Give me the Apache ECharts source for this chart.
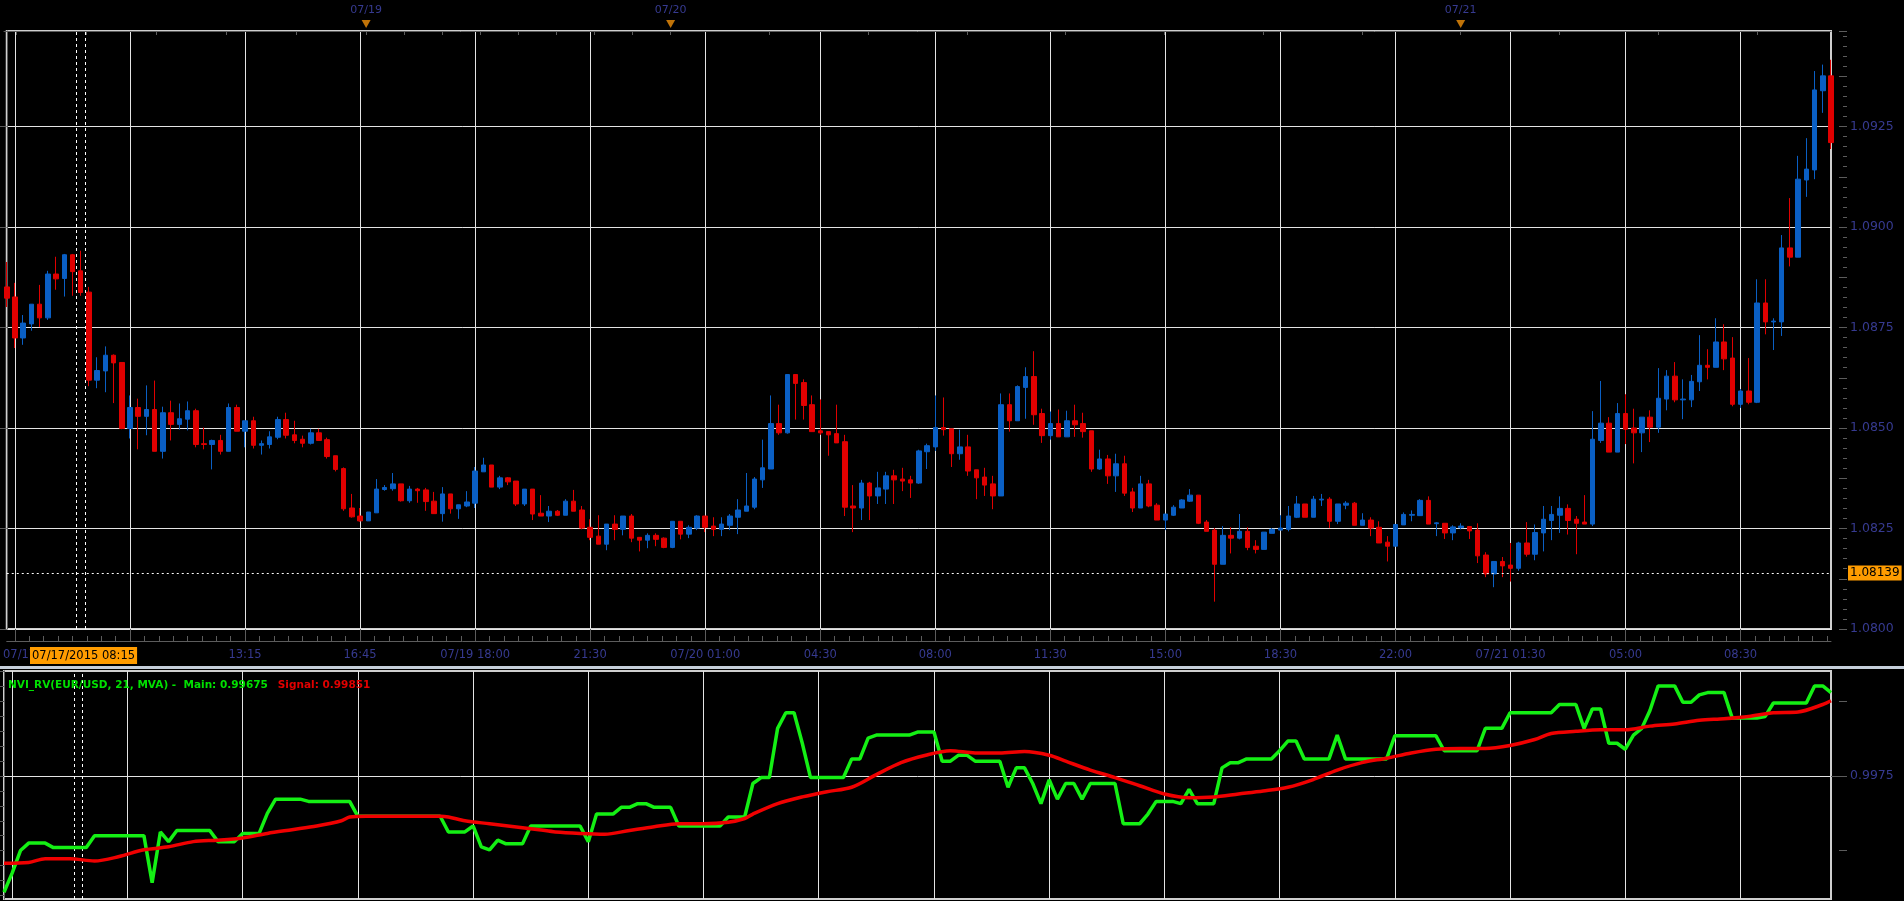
<!DOCTYPE html>
<html><head><meta charset="utf-8">
<script src="https://cdn.jsdelivr.net/npm/echarts@6/dist/echarts.min.js"></script>
<style>html,body{margin:0;padding:0;background:#000;overflow:hidden}#c{width:1904px;height:901px}</style>
</head><body><div id="c"></div>
<script>
// ---------- DATA (15-minute EUR/USD bars) ----------
const opens = [1.08851,1.08826,1.08724,1.08759,1.08808,1.08774,1.08883,1.08872,1.08931,1.08891,1.08838,1.08619,1.08642,1.08681,1.08663,1.08499,1.08551,1.08529,1.08546,1.08442,1.08538,1.08509,1.08522,1.08543,1.08461,1.08459,1.08469,1.08442,1.08551,1.08492,1.08518,1.08457,1.08459,1.08477,1.08521,1.08483,1.08472,1.08462,1.08488,1.08471,1.08431,1.08399,1.08301,1.08281,1.08269,1.08289,1.08347,1.08349,1.08361,1.08319,1.08348,1.08346,1.08318,1.08287,1.08336,1.08299,1.08306,1.08313,1.08391,1.08408,1.08353,1.08376,1.08368,1.08311,1.08348,1.08288,1.08281,1.08293,1.08283,1.08318,1.08296,1.08253,1.08231,1.08211,1.08261,1.08248,1.08281,1.08228,1.08221,1.08233,1.08226,1.08203,1.08268,1.08236,1.08251,1.08281,1.08256,1.08248,1.08258,1.08278,1.08293,1.08303,1.08371,1.08398,1.08511,1.08488,1.08633,1.08613,1.08558,1.08493,1.08491,1.08486,1.08466,1.08306,1.08301,1.08363,1.08331,1.08348,1.08381,1.08373,1.08371,1.08363,1.08441,1.08453,1.08501,1.08498,1.08436,1.08453,1.08396,1.08378,1.08361,1.08331,1.08558,1.08518,1.08601,1.08628,1.08536,1.08481,1.08511,1.08478,1.08518,1.08511,1.08493,1.08398,1.08423,1.08381,1.08411,1.08341,1.08301,1.08361,1.08308,1.08271,1.08283,1.08301,1.08318,1.08333,1.08266,1.08246,1.08161,1.08233,1.08226,1.08243,1.08206,1.08198,1.08238,1.08246,1.08248,1.08278,1.08311,1.08278,1.08321,1.08323,1.08268,1.08308,1.08313,1.08258,1.08271,1.08253,1.08216,1.08206,1.08259,1.08283,1.08282,1.08320,1.08262,1.08263,1.08239,1.08252,1.08255,1.08246,1.08184,1.08137,1.08168,1.08159,1.08151,1.08214,1.08186,1.08239,1.08270,1.08283,1.08300,1.08273,1.08266,1.08261,1.08469,1.08512,1.08440,1.08536,1.08500,1.08488,1.08527,1.08502,1.08572,1.08629,1.08570,1.08570,1.08615,1.08656,1.08651,1.08714,1.08674,1.08559,1.08592,1.08564,1.08811,1.08764,1.08764,1.08948,1.08925,1.09117,1.09142,1.09339,1.09376];
const closes = [1.08823,1.08724,1.08761,1.08808,1.08774,1.08883,1.08871,1.08931,1.08889,1.08837,1.08619,1.08643,1.08681,1.08662,1.08499,1.08551,1.08529,1.08546,1.08442,1.08538,1.08509,1.08523,1.08543,1.08459,1.08459,1.08469,1.08442,1.08551,1.08492,1.08518,1.08457,1.08461,1.08478,1.08521,1.08482,1.08469,1.08462,1.08488,1.08469,1.08429,1.08397,1.08299,1.08279,1.08269,1.08291,1.08348,1.08352,1.08361,1.08319,1.08348,1.08344,1.08317,1.08287,1.08336,1.08299,1.08309,1.08316,1.08393,1.08408,1.08353,1.08376,1.08366,1.08311,1.08348,1.08286,1.08281,1.08293,1.08283,1.08318,1.08293,1.08251,1.08228,1.08211,1.08261,1.08248,1.08281,1.08226,1.08221,1.08233,1.08223,1.08203,1.08268,1.08236,1.08253,1.08281,1.08253,1.08248,1.08261,1.08281,1.08296,1.08306,1.08373,1.08401,1.08511,1.08488,1.08633,1.08611,1.08556,1.08491,1.08488,1.08483,1.08463,1.08303,1.08301,1.08363,1.08331,1.08351,1.08381,1.08371,1.08368,1.08363,1.08443,1.08456,1.08501,1.08496,1.08436,1.08453,1.08393,1.08376,1.08358,1.08331,1.08558,1.08518,1.08603,1.08628,1.08533,1.08481,1.08511,1.08478,1.08518,1.08508,1.08491,1.08398,1.08423,1.08381,1.08411,1.08338,1.08301,1.08361,1.08306,1.08271,1.08286,1.08303,1.08321,1.08333,1.08263,1.08243,1.08161,1.08233,1.08226,1.08243,1.08203,1.08198,1.08241,1.08248,1.08251,1.08281,1.08311,1.08278,1.08323,1.08323,1.08268,1.08311,1.08313,1.08258,1.08271,1.08251,1.08214,1.08206,1.08260,1.08285,1.08285,1.08320,1.08261,1.08264,1.08239,1.08254,1.08256,1.08244,1.08182,1.08137,1.08168,1.08157,1.08151,1.08214,1.08186,1.08240,1.08273,1.08285,1.08300,1.08270,1.08263,1.08261,1.08472,1.08512,1.08440,1.08536,1.08497,1.08488,1.08527,1.08502,1.08574,1.08629,1.08570,1.08572,1.08616,1.08656,1.08651,1.08714,1.08672,1.08559,1.08592,1.08564,1.08811,1.08764,1.08766,1.08948,1.08925,1.09119,1.09144,1.09341,1.09376,1.09210];
const lows = [1.08801,1.08699,1.08707,1.08742,1.08751,1.08769,1.08844,1.08827,1.08829,1.08829,1.08604,1.08599,1.08589,1.08562,1.08497,1.08474,1.08447,1.08482,1.08442,1.08424,1.08469,1.08496,1.08494,1.08452,1.08447,1.08397,1.08434,1.08442,1.08492,1.08452,1.08449,1.08434,1.08449,1.08472,1.08474,1.08462,1.08452,1.08459,1.08469,1.08424,1.08392,1.08294,1.08277,1.08267,1.08269,1.08289,1.08344,1.08344,1.08317,1.08314,1.08314,1.08294,1.08287,1.08267,1.08287,1.08274,1.08303,1.08301,1.08391,1.08353,1.08348,1.08358,1.08306,1.08306,1.08271,1.08281,1.08266,1.08281,1.08283,1.08293,1.08248,1.08221,1.08211,1.08196,1.08221,1.08233,1.08216,1.08193,1.08201,1.08206,1.08201,1.08201,1.08223,1.08226,1.08246,1.08241,1.08231,1.08231,1.08246,1.08236,1.08293,1.08298,1.08351,1.08398,1.08483,1.08486,1.08521,1.08521,1.08491,1.08483,1.08431,1.08463,1.08281,1.08241,1.08271,1.08271,1.08311,1.08311,1.08311,1.08343,1.08326,1.08361,1.08398,1.08443,1.08481,1.08403,1.08421,1.08381,1.08323,1.08331,1.08298,1.08331,1.08491,1.08518,1.08523,1.08508,1.08463,1.08471,1.08478,1.08478,1.08478,1.08476,1.08391,1.08396,1.08361,1.08341,1.08331,1.08291,1.08301,1.08303,1.08271,1.08246,1.08281,1.08301,1.08316,1.08261,1.08243,1.08068,1.08161,1.08188,1.08223,1.08196,1.08188,1.08198,1.08238,1.08246,1.08243,1.08276,1.08278,1.08278,1.08306,1.08251,1.08261,1.08298,1.08258,1.08258,1.08231,1.08214,1.08168,1.08206,1.08259,1.08268,1.08281,1.08261,1.08231,1.08224,1.08221,1.08248,1.08224,1.08164,1.08129,1.08104,1.08129,1.08118,1.08145,1.08180,1.08171,1.08193,1.08221,1.08239,1.08235,1.08186,1.08261,1.08256,1.08463,1.08440,1.08440,1.08460,1.08412,1.08440,1.08465,1.08488,1.08544,1.08564,1.08522,1.08552,1.08592,1.08621,1.08651,1.08644,1.08554,1.08550,1.08559,1.08562,1.08733,1.08694,1.08729,1.08902,1.08925,1.09075,1.09119,1.09284,1.09194];
const highs = [1.08913,1.08861,1.08781,1.08808,1.08856,1.08891,1.08926,1.08933,1.08933,1.08941,1.08851,1.08676,1.08703,1.08683,1.08663,1.08581,1.08573,1.08606,1.08618,1.08553,1.08568,1.08561,1.08566,1.08548,1.08501,1.08471,1.08483,1.08561,1.08558,1.08518,1.08528,1.08469,1.08492,1.08528,1.08538,1.08518,1.08481,1.08498,1.08498,1.08476,1.08431,1.08402,1.08336,1.08301,1.08291,1.08373,1.08358,1.08388,1.08361,1.08356,1.08351,1.08351,1.08341,1.08353,1.08336,1.08309,1.08343,1.08403,1.08426,1.08408,1.08381,1.08378,1.08368,1.08348,1.08348,1.08333,1.08306,1.08296,1.08323,1.08346,1.08306,1.08273,1.08283,1.08261,1.08283,1.08281,1.08286,1.08228,1.08238,1.08238,1.08228,1.08268,1.08268,1.08258,1.08283,1.08281,1.08278,1.08278,1.08286,1.08323,1.08388,1.08378,1.08471,1.08581,1.08558,1.08633,1.08633,1.08621,1.08581,1.08571,1.08491,1.08558,1.08483,1.08358,1.08371,1.08366,1.08391,1.08391,1.08396,1.08401,1.08381,1.08446,1.08461,1.08581,1.08576,1.08498,1.08496,1.08483,1.08396,1.08401,1.08381,1.08586,1.08586,1.08606,1.08651,1.08691,1.08548,1.08541,1.08546,1.08543,1.08558,1.08538,1.08493,1.08446,1.08433,1.08436,1.08431,1.08351,1.08381,1.08371,1.08313,1.08286,1.08308,1.08323,1.08348,1.08333,1.08271,1.08251,1.08256,1.08253,1.08286,1.08253,1.08221,1.08241,1.08251,1.08283,1.08306,1.08331,1.08311,1.08331,1.08336,1.08328,1.08311,1.08318,1.08316,1.08288,1.08278,1.08268,1.08231,1.08260,1.08290,1.08295,1.08323,1.08330,1.08266,1.08263,1.08258,1.08263,1.08255,1.08263,1.08191,1.08168,1.08179,1.08214,1.08217,1.08266,1.08260,1.08306,1.08306,1.08330,1.08310,1.08281,1.08333,1.08542,1.08617,1.08527,1.08562,1.08584,1.08548,1.08527,1.08544,1.08649,1.08644,1.08664,1.08621,1.08632,1.08731,1.08696,1.08773,1.08758,1.08726,1.08597,1.08674,1.08870,1.08870,1.08773,1.08980,1.09072,1.09177,1.09221,1.09388,1.09404,1.09416];

// bottom time-axis labels (one every 14 bars, starting at bar 1)
const tickLabels = ['07/17 06:15','09:45','13:15','16:45','07/19 18:00','21:30','07/20 01:00','04:30','08:00','11:30','15:00','18:30','22:00','07/21 01:30','05:00','08:30'];
// top date strip
const dayLabels = ['07/19','07/20','07/21'];
const dayStartIdx = [44, 81, 177];
const dayBounds = [-24, 44, 81, 177, 273];

// NVI_RV indicator: [bar index, value]
const nviMain = [[0,0.99594],[1,0.99620],[2,0.99650],[3,0.99660],[5,0.99660],[6,0.99654],[10,0.99654],[11,0.99670],[17,0.99670],[18,0.99607],[19,0.99675],[20,0.99662],[21,0.99677],[25,0.99677],[26,0.99662],[28,0.99662],[29,0.99673],[31,0.99673],[32,0.99700],[33,0.99719],[36,0.99719],[37,0.99716],[42,0.99716],[43,0.99696],[53,0.99696],[54,0.99675],[56,0.99675],[57,0.99683],[58,0.99655],[59,0.99651],[60,0.99664],[61,0.99659],[63,0.99659],[64,0.99683],[70,0.99683],[71,0.99662],[72,0.99699],[74,0.99699],[75,0.99708],[76,0.99708],[77,0.99713],[78,0.99713],[79,0.99708],[81,0.99708],[82,0.99683],[87,0.99683],[88,0.99695],[90,0.99695],[91,0.99740],[92,0.99748],[93,0.99748],[94,0.99814],[95,0.99835],[96,0.99835],[97,0.99794],[98,0.99748],[102,0.99748],[103,0.99773],[104,0.99773],[105,0.99801],[106,0.99805],[110,0.99805],[111,0.99809],[113,0.99809],[114,0.99770],[115,0.99770],[116,0.99778],[117,0.99778],[118,0.99770],[121,0.99770],[122,0.99735],[123,0.99761],[124,0.99761],[125,0.99740],[126,0.99713],[127,0.99745],[128,0.99719],[129,0.99740],[130,0.99740],[131,0.99719],[132,0.99740],[135,0.99740],[136,0.99686],[138,0.99686],[139,0.99699],[140,0.99716],[142,0.99716],[143,0.99713],[144,0.99732],[145,0.99713],[147,0.99713],[148,0.99761],[149,0.99768],[150,0.99768],[151,0.99773],[154,0.99773],[155,0.99784],[156,0.99797],[157,0.99797],[158,0.99773],[161,0.99773],[162,0.99805],[163,0.99773],[168,0.99773],[169,0.99804],[174,0.99804],[175,0.99784],[179,0.99784],[180,0.99814],[182,0.99814],[183,0.99835],[188,0.99835],[189,0.99846],[191,0.99846],[192,0.99814],[193,0.99840],[194,0.99840],[195,0.99794],[196,0.99794],[197,0.99786],[198,0.99805],[199,0.99814],[200,0.99838],[201,0.99871],[203,0.99871],[204,0.99849],[205,0.99849],[206,0.99859],[207,0.99862],[209,0.99862],[210,0.99828],[213,0.99828],[214,0.99830],[215,0.99848],[219,0.99848],[220,0.99871],[221,0.99871],[222,0.99862]];
const nviSignal = [[0,0.99633],[3,0.99634],[5,0.99639],[8,0.99639],[11,0.99636],[14,0.99642],[17,0.99651],[20,0.99655],[23,0.99662],[26,0.99664],[29,0.99667],[32,0.99673],[35,0.99678],[38,0.99683],[41,0.99690],[42,0.99695],[44,0.99696],[53,0.99696],[54,0.99695],[56,0.99690],[59,0.99686],[62,0.99682],[65,0.99678],[67,0.99675],[70,0.99673],[73,0.99672],[76,0.99677],[79,0.99682],[82,0.99686],[85,0.99686],[88,0.99688],[90,0.99693],[91,0.99699],[94,0.99713],[97,0.99722],[100,0.99729],[103,0.99735],[106,0.99752],[109,0.99768],[112,0.99778],[115,0.99784],[118,0.99781],[121,0.99781],[124,0.99783],[127,0.99778],[129,0.99770],[132,0.99758],[135,0.99748],[138,0.99737],[141,0.99726],[144,0.99721],[147,0.99722],[150,0.99726],[153,0.99730],[156,0.99735],[159,0.99745],[162,0.99758],[165,0.99768],[168,0.99774],[171,0.99781],[174,0.99786],[177,0.99787],[180,0.99787],[183,0.99791],[186,0.99799],[188,0.99807],[191,0.99810],[194,0.99812],[197,0.99812],[200,0.99817],[203,0.99820],[206,0.99825],[209,0.99827],[212,0.99830],[215,0.99835],[218,0.99836],[221,0.99846],[222,0.99851]];

const lastPrice = 1.08139;
const cursorIdx = 9;
const cursorLabel = '07/17/2015 08:15';
const legendMain = '0.99675';
const legendSignal = '0.99851';
const lowerGridValue = 0.9975;

// ---------- BUILD ----------
const N = opens.length;
function pad(n){return (n<10?'0':'')+n;}
const categories = [];
const segStart = [Date.UTC(2015,6,17,6,0), Date.UTC(2015,6,19,14,45)];
for (let i = 0; i < N; i++) {
  const t = i < 44 ? segStart[0] + i*900000 : segStart[1] + (i-44)*900000;
  const d = new Date(t);
  categories.push(pad(d.getUTCMonth()+1)+'/'+pad(d.getUTCDate())+' '+pad(d.getUTCHours())+':'+pad(d.getUTCMinutes()));
}
const ohlc = opens.map((o,i)=>[o, closes[i], lows[i], highs[i]]);
const isMajor = i => (i-1) % 14 === 0;
const bottomMinor = [];
for (let k = 0; 1 + k*1.75 <= N-1; k++) bottomMinor.push(1 + k*1.75);
const topTicks = [];
for (let d = 0; d < dayBounds.length-1; d++) {
  const len = (dayBounds[d+1]-dayBounds[d])/8;
  for (let j = 0; j < 8; j++) { const v = dayBounds[d] + j*len; if (v >= 0 && v <= N-1) topTicks.push(v); }
}
const lowerMinor = [];
for (let k = -8; k <= 7; k++) lowerMinor.push(Math.round((0.9975 + k*0.0002)*1e5)/1e5);

const FONT = 'DejaVu Sans';
const NAVY = '#363a90';
const GRIDC = '#e4e4e4';
const TICKC = '#5c5c5c';
const UP = '#0a5fc4', DOWN = '#e00000';
const YMIN = 1.08, YMAX = 1.094876, LMIN = 0.99585, LMAX = 0.99891;

const chart = echarts.init(document.getElementById('c'), null, {renderer:'canvas'});
const tickOnlyY = (grid, extra) => Object.assign({gridIndex:grid, type:'value', position:'right', offset:16,
  axisLine:{show:false}, axisLabel:{show:false}, splitLine:{show:false}}, extra);
const vDash = (x) => ({xAxis: x, lineStyle:{color:'#ffffff', type:[3,3], width:1}, label:{show:false}});
chart.setOption({
  backgroundColor: '#000',
  animation: false,
  title: {
    left: 8, top: 676, padding: 0,
    text: '{g|NVI_RV(EUR/USD, 21, MVA) -  Main: ' + legendMain + '}  {r|Signal: ' + legendSignal + '}',
    textStyle: { rich: {
      g: {color:'#00e000', fontSize: 10.5, fontFamily: FONT},
      r: {color:'#e00000', fontSize: 10.5, fontFamily: FONT}
    }}
  },
  grid: [
    {left: 4, top: 31, width: 1827, height: 598, show: true, borderColor: '#cfcfcf', borderWidth: 2, backgroundColor: 'transparent'},
    {left: 4, top: 671, width: 1827, height: 228, show: true, borderColor: '#cfcfcf', borderWidth: 2, backgroundColor: 'transparent'},
    {left: 4, top: 19, width: 1827, height: 12, show: false}
  ],
  xAxis: [
    {gridIndex:0, type:'category', data: categories, boundaryGap:false,
      axisLine:{show:false}, axisTick:{show:false}, axisLabel:{show:false},
      splitLine:{show:true, interval:(i)=>isMajor(i), lineStyle:{color:GRIDC, width:1}}},
    {gridIndex:0, type:'value', min:0, max:N-1, position:'bottom', offset:12,
      axisLine:{show:true, lineStyle:{color:TICKC}},
      axisTick:{show:true, inside:true, length:5, customValues: bottomMinor, lineStyle:{color:TICKC}},
      axisLabel:{show:false}, splitLine:{show:false}},
    {gridIndex:0, type:'category', data: categories, boundaryGap:false, position:'bottom', offset:12,
      axisLine:{show:false},
      axisTick:{show:true, inside:true, length:12, interval:(i)=>isMajor(i), lineStyle:{color:TICKC}},
      axisLabel:{show:true, interval:(i)=>isMajor(i), color:NAVY, fontSize:11.5, fontFamily:FONT, margin:8,
        formatter:(v, i) => {
          const k = (i-1)/14;
          if (k === 1) return '';            // hidden under cursor label
          if (k === 0) return '{s|' + tickLabels[0] + '}';
          return tickLabels[k] || '';
        },
        rich:{s:{color:NAVY, fontSize:11.5, fontFamily:FONT, padding:[0,0,0,46]}}},
      splitLine:{show:false}},
    {gridIndex:1, type:'category', data: categories, boundaryGap:false,
      axisLine:{show:false}, axisTick:{show:false}, axisLabel:{show:false},
      splitLine:{show:true, interval:(i)=>isMajor(i), lineStyle:{color:GRIDC, width:1}}},
    {gridIndex:1, type:'value', min:0, max:N-1, show:false},
    {gridIndex:2, type:'value', min:0, max:N-1, position:'top',
      axisLine:{show:true, lineStyle:{color:TICKC}},
      axisTick:{show:true, inside:true, length:4, customValues: topTicks, lineStyle:{color:TICKC}},
      axisLabel:{show:true, customValues: dayStartIdx, color:NAVY, fontSize:11, fontFamily:FONT, margin:3,
        formatter:(v)=> dayLabels[dayStartIdx.indexOf(v)] || ''},
      splitLine:{show:false}}
  ],
  yAxis: [
    {gridIndex:0, type:'value', min:YMIN, max:YMAX, interval:0.0025, position:'right', offset:16,
      axisLine:{show:true, lineStyle:{color:TICKC}},
      axisTick:{show:true, inside:true, length:16, lineStyle:{color:TICKC}},
      splitLine:{show:true, lineStyle:{color:GRIDC, width:1}},
      axisLabel:{color:NAVY, fontSize:12.5, fontFamily:FONT, margin:3, showMaxLabel:false, formatter:(v)=>v.toFixed(4)}},
    tickOnlyY(0, {min:YMIN, max:YMAX, interval:0.00125, axisTick:{show:true, inside:true, length:8, lineStyle:{color:TICKC}}}),
    tickOnlyY(0, {min:YMIN, max:YMAX, interval:0.00025, axisTick:{show:true, inside:true, length:4, lineStyle:{color:TICKC}}}),
    {gridIndex:1, type:'value', min:LMIN, max:LMAX, position:'right', offset:16,
      axisLine:{show:true, lineStyle:{color:TICKC}},
      axisTick:{show:true, inside:true, length:4, customValues: lowerMinor, lineStyle:{color:TICKC}},
      axisLabel:{show:true, customValues:[lowerGridValue], color:NAVY, fontSize:12.5, fontFamily:FONT, margin:3, formatter:(v)=>v.toFixed(4)},
      splitLine:{show:false}},
    tickOnlyY(1, {min:LMIN, max:LMAX, axisTick:{show:true, inside:true, length:8, customValues:[0.9965, 0.9985], lineStyle:{color:TICKC}}}),
    tickOnlyY(1, {min:LMIN, max:LMAX, axisTick:{show:true, inside:true, length:16, customValues:[lowerGridValue], lineStyle:{color:TICKC}}}),
    {gridIndex:2, type:'value', min:0, max:1, show:false}
  ],
  series: [
    {type:'candlestick', xAxisIndex:0, yAxisIndex:0, data: ohlc, barWidth: 5, z: 3,
      itemStyle:{color:UP, color0:DOWN, borderColor:UP, borderColor0:DOWN, borderWidth:1}},
    {type:'line', xAxisIndex:1, yAxisIndex:0, data:[], silent:true, z: 4,
      markLine:{silent:true, symbol:['none','none'], animation:false, label:{show:false},
        data:[
          vDash(cursorIdx-0.5), vDash(cursorIdx+0.5),
          [{coord:[0, lastPrice], lineStyle:{color:'#ffffff', type:[2,3], width:1},
            label:{show:true, position:'end', distance:17, formatter: lastPrice.toFixed(5),
              backgroundColor:'#ff9c00', color:'#000', fontSize:12, fontFamily:FONT, padding:[2,2,1,2]}},
           {coord:[N-1, lastPrice]}]
        ]}},
    {type:'line', xAxisIndex:4, yAxisIndex:3, data:[], silent:true, z: 1,
      markLine:{silent:true, symbol:['none','none'], animation:false, label:{show:false},
        data:[
          [{coord:[0, lowerGridValue], lineStyle:{color:GRIDC, type:'solid', width:1}}, {coord:[N-1, lowerGridValue]}],
          vDash(cursorIdx-0.5), vDash(cursorIdx+0.5)
        ]}},
    {type:'line', name:'Main', xAxisIndex:3, yAxisIndex:3, data: nviMain, symbol:'none', z: 5,
      lineStyle:{color:'#14f014', width:3.5}},
    {type:'line', name:'Signal', xAxisIndex:3, yAxisIndex:3, data: nviSignal, symbol:'none', smooth: 0.3, z: 6,
      lineStyle:{color:'#f00000', width:3.5}},
    {type:'scatter', xAxisIndex:5, yAxisIndex:6, data: dayStartIdx.map(i=>[i, 0.58]), symbol:'triangle', symbolRotate:180,
      symbolSize:[9,8], itemStyle:{color:'#f0900a'}, silent:true, z: 5}
  ],
  graphic: [
    {type:'rect', shape:{x:0, y:666, width:1904, height:3}, style:{fill:'#c6cfdb'}, silent:true},
    {type:'text', x:30, y:647, z:100, silent:true,
      style:{text: cursorLabel, fill:'#000', backgroundColor:'#ff9c00', padding:[3,2,2,2], font:'11.5px "DejaVu Sans"'}}
  ]
});
</script>
</body></html>
